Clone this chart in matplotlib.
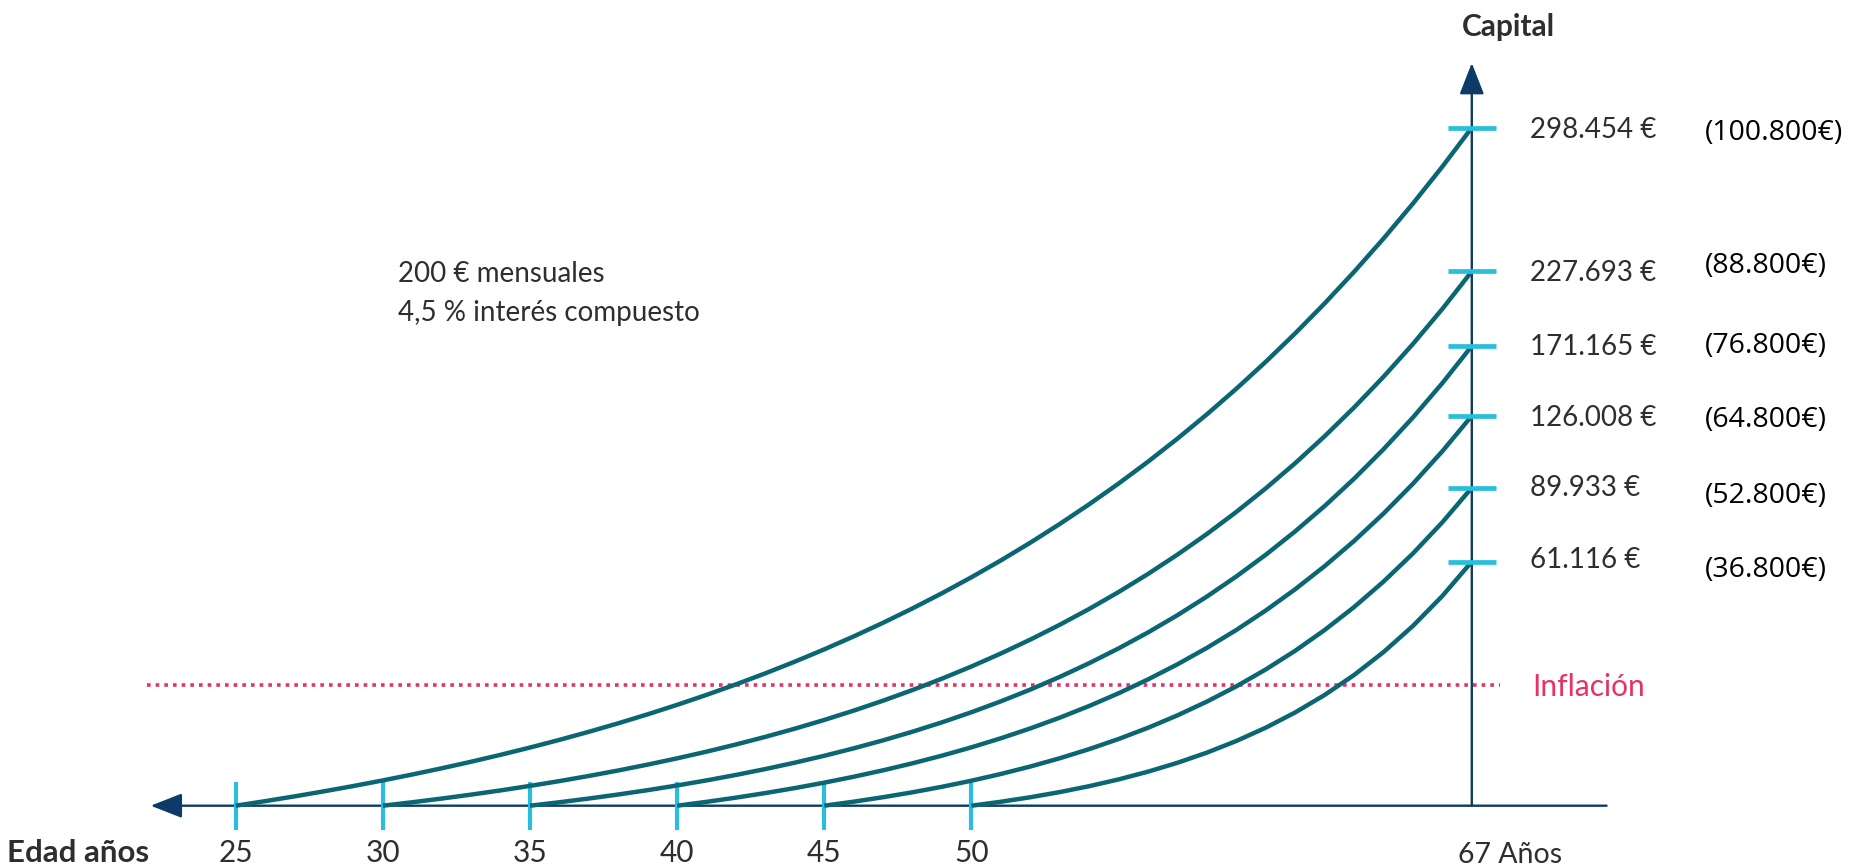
import matplotlib
matplotlib.use("Agg")
import matplotlib.pyplot as plt

# ---------------------------------------------------------------------------
# Datos
# ---------------------------------------------------------------------------
edades_inicio = [25, 30, 35, 40, 45, 50]
edad_jubilacion = 67

capital_final = [298454, 227693, 171165, 126008, 89933, 61116]
capital_texto = ["298.454 €", "227.693 €", "171.165 €", "126.008 €", "89.933 €", "61.116 €"]
aportado_texto = ["(100.800€)", "(88.800€)", "(76.800€)", "(64.800€)", "(52.800€)", "(36.800€)"]

# Capital acumulado (€) año a año en cada trayectoria de ahorro
edades_25 = list(range(25, 68))
capital_25 = [0, 2000, 4108, 6329, 8669, 11135, 13734, 16473, 19358, 22399,
              25604, 28981, 32539, 36289, 40240, 44404, 48792, 53416, 58289, 63424,
              68834, 74536, 80544, 86875, 93547, 100578, 107987, 115794, 124021, 132690,
              141826, 151453, 161597, 172287, 183553, 195424, 207933, 221115, 235006,
              249644, 265068, 281323, 298454]

edades_30 = list(range(30, 68))
capital_30 = [0, 1472, 3045, 4726, 6521, 8440, 10490, 12680, 15020, 17520,
              20192, 23046, 26096, 29355, 32836, 36556, 40531, 44778, 49315, 54163,
              59343, 64878, 70791, 77109, 83860, 91073, 98780, 107014, 115812, 125212,
              135257, 145988, 157454, 169705, 182795, 196781, 211723, 227693]

edades_35 = list(range(35, 68))
capital_35 = [0, 1286, 2675, 4174, 5792, 7539, 9426, 11462, 13660, 16033,
              18596, 21362, 24347, 27571, 31051, 34808, 38864, 43243, 47970, 53073,
              58582, 64530, 70951, 77883, 85366, 93445, 102166, 111582, 121746, 132720,
              144567, 157356, 171165]

edades_40 = list(range(40, 68))
capital_40 = [0, 1249, 2608, 4088, 5700, 7455, 9367, 11448, 13715, 16183,
              18871, 21798, 24984, 28454, 32233, 36348, 40828, 45707, 51020, 56805,
              63104, 69964, 77433, 85567, 94424, 104069, 114571, 126008]

edades_45 = list(range(45, 68))
capital_45 = [0, 1141, 2405, 3805, 5355, 7073, 8976, 11083, 13418, 16004,
              18868, 22041, 25555, 29448, 33760, 38536, 43827, 49687, 56180, 63371,
              71335, 80158, 89933]

edades_50 = list(range(50, 68))
capital_50 = [0, 987, 2116, 3409, 4890, 6585, 8525, 10747, 13291, 16203,
              19537, 23354, 27724, 32727, 38455, 45013, 52520, 61116]

trayectorias = [
    (edades_25, capital_25),
    (edades_30, capital_30),
    (edades_35, capital_35),
    (edades_40, capital_40),
    (edades_45, capital_45),
    (edades_50, capital_50),
]

# ---------------------------------------------------------------------------
# Diseño
# ---------------------------------------------------------------------------
W, H, DPI = 1850, 866, 100
PT = 72 / DPI  # puntos por píxel

TEAL = "#0b6673"
NAVY = "#0d3a66"
CYAN = "#29bfdc"
CRIMSON = "#e5336a"
TEXTO = "#2e2e2e"

plt.rcParams["font.family"] = ["Lato", "DejaVu Sans"]

# Altura relativa de cada marca del eje de capital (esquema no lineal)
altura_marca = [1.0, 0.788, 0.678, 0.575, 0.469, 0.360]
nivel_inflacion = 0.178

# Límites del lienzo en unidades de datos
X0, X1 = 16.990, 79.851
Y0, Y1 = -0.08894, 1.18835

fig = plt.figure(figsize=(W / DPI, H / DPI), dpi=DPI)
fig.patch.set_facecolor("white")
ax = fig.add_axes([0, 0, 1, 1])
ax.set_xlim(X0, X1)
ax.set_ylim(Y0, Y1)
ax.axis("off")

# Ejes con flecha
flecha = dict(arrowstyle="-|>,head_length=0.97,head_width=0.38", mutation_scale=20,
              lw=1.7, color=NAVY, shrinkA=0, shrinkB=0)
ax.annotate("", xy=(22.11, 0), xytext=(71.58, 0), arrowprops=flecha, zorder=1)
ax.annotate("", xy=(edad_jubilacion, 1.0954), xytext=(edad_jubilacion, 0),
            arrowprops=flecha, zorder=1)

# Línea de inflación
ax.plot([22.0, 67.96], [nivel_inflacion, nivel_inflacion], color=CRIMSON, lw=2.6,
        ls=(0, (1, 1.4)), zorder=1)
ax.annotate("Inflación", xy=(edad_jubilacion, nivel_inflacion),
            xytext=(60 * PT, -10.8 * PT), textcoords="offset points",
            ha="left", va="baseline", fontsize=21.5, color=CRIMSON)

# Marcas y etiquetas de edad
ax.plot(edades_inicio, [0] * len(edades_inicio), ls="none", marker="|", ms=35,
        mew=3.0, color=CYAN, zorder=2)
for e in edades_inicio:
    ax.annotate(str(e), xy=(e, 0), xytext=(0, -56.5 * PT), textcoords="offset points",
                ha="center", va="baseline", fontsize=21.5, color=TEXTO)
ax.annotate("67 Años", xy=(edad_jubilacion, 0), xytext=(-14 * PT, -57.5 * PT),
            textcoords="offset points", ha="left", va="baseline", fontsize=20.5,
            color=TEXTO)

# Curvas de capital, cada una con su propia escala en euros
ajuste_valor = [0, 0, 1, 0, 2, 4]
ajuste_aportado = [-2.3, 8.7, 3, -1.3, -5.3, -5.3]
for i, (edades, capital) in enumerate(trayectorias):
    axc = ax.twinx()
    escala = capital_final[i] / altura_marca[i]
    axc.set_ylim(Y0 * escala, Y1 * escala)
    axc.set_axis_off()
    axc.plot(edades, capital, color=TEAL, lw=3.2, solid_capstyle="butt",
             solid_joinstyle="round", zorder=2)
    axc.plot([edad_jubilacion], [capital_final[i]], ls="none", marker="_", ms=35,
             mew=3.4, color=CYAN, zorder=3)
    axc.annotate(capital_texto[i], xy=(edad_jubilacion, capital_final[i]),
                 xytext=(58 * PT, (-10 + ajuste_valor[i]) * PT), textcoords="offset points",
                 ha="left", va="baseline", fontsize=20, color=TEXTO)
    axc.annotate(aportado_texto[i], xy=(edad_jubilacion, capital_final[i]),
                 xytext=(233 * PT, (-10.2 + ajuste_aportado[i]) * PT),
                 textcoords="offset points", ha="left", va="baseline",
                 fontsize=20.5, color="black", family=["Open Sans", "DejaVu Sans"])

# Títulos de los ejes y nota
fig.text(1462 / W, 1 - 36 / H, "Capital", ha="left", va="baseline", fontsize=21.5,
         fontweight="bold", color=TEXTO)
fig.text(7 / W, 1 - 862 / H, "Edad años", ha="left", va="baseline", fontsize=22.5,
         fontweight="bold", color=TEXTO)
fig.text(398 / W, 1 - 282 / H, "200 € mensuales", ha="left", va="baseline",
         fontsize=20, color=TEXTO)
fig.text(398 / W, 1 - 321 / H, "4,5 % interés compuesto", ha="left", va="baseline",
         fontsize=20, color=TEXTO)

fig.savefig("out.png", dpi=DPI, facecolor="white")
